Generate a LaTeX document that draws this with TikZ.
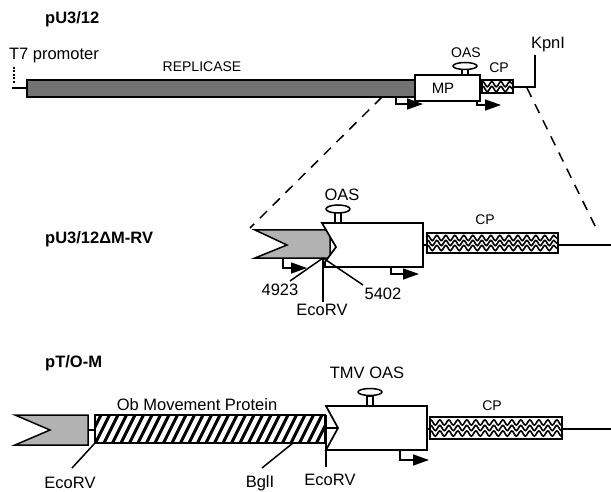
\documentclass[tikz,border=0pt]{standalone}
\usepackage{fontspec}
\setmainfont{Liberation Sans}
\usetikzlibrary{arrows.meta,decorations.pathmorphing}
\begin{document}
\begin{tikzpicture}[x=1pt,y=-1pt,
  lbl/.style={font=\fontsize{16.5}{18}\selectfont, inner sep=0pt},
  slbl/.style={font=\fontsize{14}{16}\selectfont, inner sep=0pt},
  ttl/.style={font=\fontsize{16.5}{18}\selectfont\bfseries, inner sep=0pt, anchor=west},
  box/.style={draw=black, line width=1.7pt},
  ln/.style={line width=1.5pt},
  arr/.style={line width=1.5pt, -{Triangle[length=16pt,width=11pt]}},
  zz/.style={line width=1.6pt, decorate, decoration={snake, segment length=9pt, amplitude=2.6pt}},
  dsh/.style={line width=1.5pt, dash pattern=on 10pt off 8pt},
  gene/.style={box, fill=black!55},
  lgray/.style={line width=1.5pt, fill=black!30},
  oasstem/.style={draw, line width=1.3pt, fill=white},
  oascap/.style={draw, line width=1.5pt, fill=white}
]
\useasboundingbox (0,0) rectangle (611,492);

% ---------------- Row 1: pU3/12 ----------------
\node[ttl] (t1) at (45,19) {pU3/12};
\node[lbl] (t7) at (54,56) {T7 promoter};
\draw[line width=1.2pt, dash pattern=on 2pt off 1.5pt] (14,67) -- (14,84);
\draw[ln] (12,88) -- (27,88);
\draw[gene] (27,80) rectangle (415,97);
\node[slbl] (rep) at (202,67) {REPLICASE};
\draw[box, fill=white] (415,75) rectangle (480,101);
\node[font=\fontsize{15}{16}\selectfont, inner sep=0pt] (mp) at (443,88) {MP};
\draw[oasstem] (462,69) rectangle (468,75);
\draw[oascap] (465,66) ellipse [x radius=12, y radius=3.5];
\node[slbl] (oas1) at (466,53) {OAS};
\draw[ln] (480,87) -- (482,87);
\begin{scope}
  \clip (482,80) rectangle (513,93);
  \foreach \yy in {84.2,89} \draw[zz] (480,\yy) -- (516,\yy);
\end{scope}
\draw[box] (482,80) rectangle (513,93);
\node[slbl] (cp1) at (499,68) {CP};
\draw[ln] (513,87) -- (535,87) -- (535,55);
\node[lbl] (kpn) at (548,45) {KpnI};
\draw[arr] (396,97) |- (423,104);
\draw[arr] (477,101) |- (501,105);
\draw[dsh] (382,97) -- (250,228);
\draw[dsh] (527,88) -- (598,232);

% ---------------- Row 2: pU3/12dM-RV ----------------
\node[ttl] (t2) at (45,239) {pU3/12ΔM-RV};
\draw[lgray] (255,230) -- (330,230) -- (330,258) -- (255,258) -- (287,245) -- cycle;
\draw[box, fill=white] (322,223) -- (423,223) -- (423,267) -- (325,267) -- (325,262) -- (336,247) -- cycle;
\draw[oasstem] (335,212) rectangle (341,223);
\draw[oascap] (338,209) ellipse [x radius=12, y radius=4];
\node[lbl] (oas2) at (342,195) {OAS};
\draw[ln] (423,245) -- (427,245);
\begin{scope}
  \clip (427,233) rectangle (558,253);
  \foreach \yy in {238,243,248} \draw[zz] (425,\yy) -- (561,\yy);
\end{scope}
\draw[box] (427,233) rectangle (558,253);
\node[slbl] (cp2) at (485,220) {CP};
\draw[ln] (558,245) -- (611,245);
\draw[arr] (283,258) |- (307,268);
\draw[arr] (391,267) |- (419,274);
\node[lbl] (n4923) at (280,290) {4923};
\node[lbl] (eco2) at (322,310) {EcoRV};
\node[lbl] (n5402) at (383,294) {5402};
\coordinate (cut2) at (323,258);
\draw[ln] (290,281) -- (cut2);
\draw[ln] (cut2) -- (323,302);
\draw[ln] (cut2) -- (363,285);

% ---------------- Row 3: pT/O-M ----------------
\node[ttl] (t3) at (45,363) {pT/O-M};
\draw[lgray] (15,415) -- (88,415) -- (88,445) -- (15,445) -- (50,430) -- cycle;
\draw[ln] (88,430) -- (95,430);
\begin{scope}
  \clip (95,415) rectangle (325,443);
  \foreach \xx in {70,78.5,...,340} \draw[line width=3pt] (\xx,443) -- (\xx+14,415);
\end{scope}
\draw[box] (95,415) rectangle (325,443);
\node[lbl] (ob) at (197,405) {Ob Movement Protein};
\draw[box, fill=white] (326,406) -- (427,406) -- (427,450) -- (326,450) -- (338,428) -- cycle;
\draw[ln] (325,428) -- (338,428);
\draw[oasstem] (367,396) rectangle (373,406);
\draw[oascap] (370,392) ellipse [x radius=12, y radius=3.5];
\node[lbl] (tmv) at (367,373) {TMV OAS};
\draw[ln] (427,429) -- (430,429);
\begin{scope}
  \clip (430,417) rectangle (562,439);
  \foreach \yy in {422.5,428,433.5} \draw[zz] (428,\yy) -- (565,\yy);
\end{scope}
\draw[box] (430,417) rectangle (562,439);
\node[slbl] (cp3) at (492,406) {CP};
\draw[ln] (562,429) -- (611,429);
\draw[arr] (400,450) |- (429,460);
\node[lbl] (eco3a) at (70,483) {EcoRV};
\node[lbl] (bgl) at (260,483) {BglI};
\node[lbl] (eco3b) at (330,480) {EcoRV};
\draw[ln] (95,443) -- (72,468);
\draw[ln] (293,443) -- (262,468);
\draw[ln] (326,415) -- (326,467);
\end{tikzpicture}
\end{document}
